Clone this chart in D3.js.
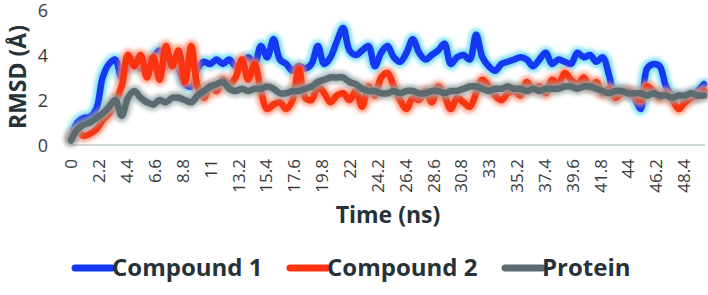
<!DOCTYPE html>
<html><head><meta charset="utf-8">
<script src="https://cdn.jsdelivr.net/npm/d3@7"></script>
<style>html,body{margin:0;padding:0;background:#fff;}svg{display:block;}</style>
</head><body>
<svg id="chart" width="708" height="295"></svg>
<script>
const step = 0.5;
const compound1 = [0.3,1.0,1.2,1.25,1.6,3.0,3.6,3.8,3.0,3.5,3.8,3.4,3.7,3.9,4.2,3.5,3.7,3.4,2.7,2.6,
3.4,3.7,3.6,3.8,3.6,3.8,3.5,3.6,3.9,3.6,4.4,3.9,4.7,3.8,3.6,3.3,3.5,3.4,3.6,4.4,
3.6,3.9,4.6,5.2,4.2,4.0,4.2,4.4,3.5,4.1,4.4,3.9,3.7,4.1,4.7,4.1,3.8,4.0,4.2,4.5,
3.6,3.9,4.0,3.8,4.9,3.9,3.5,3.3,3.6,3.7,3.8,3.9,3.8,3.5,3.8,4.1,3.6,3.8,3.7,3.6,
4.1,3.9,4.0,3.7,3.9,3.1,2.1,2.4,2.3,2.1,1.6,3.4,3.6,3.5,2.6,2.2,2.1,2.0,2.1,2.4,2.7];
const compound2 = [0.3,0.6,0.4,0.5,0.7,1.1,1.4,1.9,2.6,4.0,3.5,4.0,3.0,3.9,2.9,4.4,3.5,4.2,2.8,4.4,
2.6,2.1,2.6,2.4,2.9,2.7,3.0,3.8,2.9,3.6,2.4,1.6,1.8,1.9,1.6,2.0,3.4,2.1,2.0,2.6,
2.3,1.9,2.2,2.3,2.0,2.4,1.7,2.6,2.2,3.0,3.2,2.6,2.0,1.6,2.1,2.0,2.4,1.9,2.6,2.2,
1.6,2.1,1.9,1.7,2.3,2.9,2.6,2.2,2.0,2.3,2.4,2.2,2.8,2.5,2.6,2.3,2.9,2.7,3.2,2.9,
2.7,3.0,2.6,2.8,2.3,2.5,2.1,2.3,2.4,2.2,2.0,2.6,2.4,2.1,2.3,2.0,1.6,1.9,2.1,2.2,2.4];
const protein = [0.2,0.7,0.9,1.0,1.2,1.4,1.7,2.0,1.3,2.1,2.4,2.1,1.9,1.8,2.0,1.9,2.1,2.1,2.0,1.9,
2.2,2.4,2.6,2.7,2.8,2.5,2.4,2.5,2.4,2.5,2.5,2.6,2.5,2.3,2.3,2.4,2.4,2.5,2.6,2.8,
2.9,3.0,3.0,3.0,2.8,2.7,2.5,2.4,2.4,2.3,2.3,2.4,2.3,2.4,2.4,2.3,2.3,2.4,2.4,2.3,
2.4,2.4,2.5,2.6,2.6,2.5,2.4,2.5,2.5,2.6,2.5,2.5,2.4,2.5,2.4,2.5,2.5,2.5,2.6,2.6,
2.5,2.6,2.6,2.5,2.4,2.3,2.4,2.4,2.3,2.3,2.3,2.2,2.3,2.2,2.2,2.1,2.2,2.2,2.3,2.2,2.2];
const xTickLabels = ["0","2.2","4.4","6.6","8.8","11","13.2","15.4","17.6","19.8","22","24.2","26.4","28.6","30.8","33","35.2","37.4","39.6","41.8","44","46.2","48.4"];
const yTicks = [0,2,4,6];
const seriesNames = ["Compound 1","Compound 2","Protein"];
const seriesColors = ["#1538f2","#fa3410","#5b6b6f"];
const glowColors = ["#5fd6f7","#ff8c6c","#9aa8aa"];

const svg = d3.select("#chart");
const x = d3.scaleLinear().domain([0,50]).range([71,704]);
const y = d3.scaleLinear().domain([0,6]).range([145,10]);

const defs = svg.append("defs");
const f = defs.append("filter").attr("id","blur").attr("x","-10%").attr("y","-50%").attr("width","120%").attr("height","200%");
f.append("feGaussianBlur").attr("stdDeviation",2);

// y axis labels
svg.append("g").selectAll("text").data(yTicks).join("text")
  .attr("x",48).attr("y",d=>y(d)+1).attr("dy","0.35em").attr("text-anchor","end")
  .attr("font-family","Open Sans").attr("font-size",18).attr("fill","#3a3a3a").text(d=>d);

// x axis
const xAxis = d3.axisBottom(x)
  .tickValues(xTickLabels.map(Number))
  .tickFormat((d,i)=>xTickLabels[i]).tickSize(0).tickPadding(0);
const gx = svg.append("g").attr("transform","translate(0,145)").call(xAxis);
gx.select(".domain").attr("stroke","#bcc8cc").attr("stroke-width",1.5).attr("d","M70,0H705");
gx.selectAll("text").attr("transform","rotate(-90)").attr("x",-14).attr("y",0).attr("dy","0.35em")
  .attr("text-anchor","end").attr("font-family","Open Sans").attr("font-size",17).attr("fill","#3a3a3a");

// lines
const data = [compound1, compound2, protein];
const line = d3.line().x((d,i)=>x(i*step)).y(d=>y(d)).curve(d3.curveCatmullRom);
data.forEach((s,k)=>{
  svg.append("path").attr("d",line(s)).attr("fill","none").attr("stroke",glowColors[k])
    .attr("stroke-width",12).attr("stroke-linejoin","round").attr("stroke-linecap","round")
    .attr("opacity",0.85).attr("filter","url(#blur)");
  svg.append("path").attr("d",line(s)).attr("fill","none").attr("stroke",seriesColors[k])
    .attr("stroke-width",6.5).attr("stroke-linejoin","round").attr("stroke-linecap","round");
});

// axis titles
svg.append("text").attr("x",388).attr("y",223).attr("text-anchor","middle")
  .attr("font-family","Open Sans").attr("font-weight","bold").attr("font-size",23).attr("fill","#263238").text("Time (ns)");
svg.append("text").attr("transform","translate(26,77) rotate(-90)").attr("text-anchor","middle")
  .attr("font-family","Open Sans").attr("font-weight","bold").attr("font-size",23).attr("fill","#263238").text("RMSD (Å)");

// legend
const legendX = [75,290,505];
const lg = svg.append("g").selectAll("g").data(seriesNames).join("g")
  .attr("transform",(d,i)=>`translate(${legendX[i]},268)`);
lg.append("line").attr("x1",0).attr("x2",37).attr("y1",0).attr("y2",0)
  .attr("stroke",(d,i)=>seriesColors[i]).attr("stroke-width",7).attr("stroke-linecap","round");
lg.append("text").attr("x",37).attr("y",0).attr("dy","0.35em")
  .attr("font-family","Open Sans").attr("font-weight","bold").attr("font-size",24).attr("fill","#263238").text(d=>d);
</script>
</body></html>
